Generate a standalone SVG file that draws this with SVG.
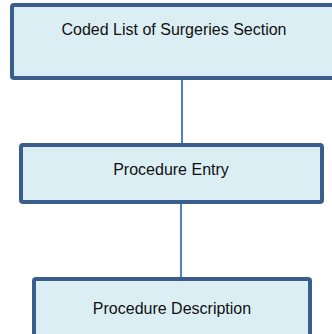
<svg xmlns="http://www.w3.org/2000/svg" width="332" height="334" viewBox="0 0 332 334">
<style>
.box{fill:#DBEEF4;stroke:#3B5D8C;stroke-width:4}
.lbl{font-family:"Liberation Sans","Open Sans",sans-serif;font-size:16px;fill:#111;text-anchor:middle}
.conn{stroke:#4F81BD;stroke-width:2;fill:none}
</style>
<rect width="332" height="334" fill="#fff"/>
<g id="connectors">
<line class="conn" x1="182" y1="80" x2="182" y2="143"/>
<line class="conn" x1="181" y1="204" x2="181" y2="277"/>
</g>
<g id="n1">
<rect class="box" x="12" y="5" width="330" height="73" rx="2"/>
<text class="lbl" x="174" y="35">Coded List of Surgeries Section</text>
</g>
<g id="n2">
<rect class="box" x="21" y="145" width="301" height="57" rx="2"/>
<text class="lbl" x="171" y="175">Procedure Entry</text>
</g>
<g id="n3">
<rect class="box" x="34" y="279" width="276" height="70" rx="2"/>
<text class="lbl" x="172" y="314">Procedure Description</text>
</g>
</svg>
